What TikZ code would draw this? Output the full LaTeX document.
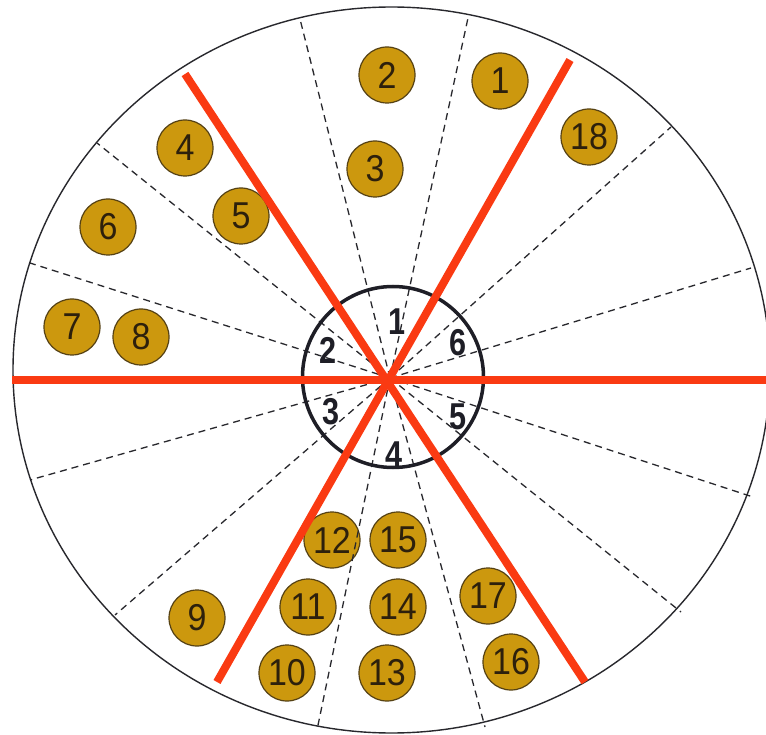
\documentclass[tikz,border=0pt]{standalone}
\usepackage{fontspec}
\setmainfont{Liberation Sans}
\definecolor{ballfill}{RGB}{204,152,14}
\definecolor{ballline}{RGB}{85,65,20}
\definecolor{balltext}{RGB}{45,32,12}
\definecolor{redline}{RGB}{250,58,18}
\definecolor{dashcol}{RGB}{40,40,45}
\definecolor{inkcol}{RGB}{30,30,38}
\newcommand{\ballnum}[1]{\scalebox{1}[1.1]{#1}}
\newcommand{\ringnum}[1]{\scalebox{0.9}[1.1]{#1}}
\begin{document}
\begin{tikzpicture}[x=1pt,y=-1pt,
  ball/.style={circle,draw=ballline,line width=1.2pt,fill=ballfill,minimum size=56pt,inner sep=0pt,
    font=\fontsize{34}{38}\selectfont,text=balltext},
  sector/.style={draw=dashcol,line width=1.3pt,dash pattern=on 7pt off 5pt},
  axis/.style={draw=redline,line width=8pt},
  ringlabel/.style={inner sep=0pt,text=inkcol,font=\bfseries\fontsize{34}{38}\selectfont},
  outer/.style={draw=dashcol,line width=1.4pt},
  inner/.style={draw=inkcol,line width=3.5pt}]
\useasboundingbox (0,0) rectangle (766,735);
\clip (0,0) rectangle (766,735);
\fill[white] (0,0) rectangle (766,735);
% outer circle
\draw[outer] (391.5,370) ellipse [x radius=378.5, y radius=363];
% centre
\coordinate (C) at (390,378);
% balls
\node[ball] (b1) at (500,81) {\ballnum{1}};
\node[ball] (b2) at (387,75) {\ballnum{2}};
\node[ball] (b3) at (375,169) {\ballnum{3}};
\node[ball] (b4) at (185,148) {\ballnum{4}};
\node[ball] (b5) at (241,216) {\ballnum{5}};
\node[ball] (b6) at (108,227) {\ballnum{6}};
\node[ball] (b7) at (72,327) {\ballnum{7}};
\node[ball] (b8) at (141,337) {\ballnum{8}};
\node[ball] (b9) at (197,618) {\ballnum{9}};
\node[ball] (b10) at (287,673) {\ballnum{10}};
\node[ball] (b11) at (308,607) {\ballnum{11}};
\node[ball] (b12) at (332,540) {\ballnum{12}};
\node[ball] (b13) at (387,673) {\ballnum{13}};
\node[ball] (b14) at (398,607) {\ballnum{14}};
\node[ball] (b15) at (398,540) {\ballnum{15}};
\node[ball] (b16) at (511,662) {\ballnum{16}};
\node[ball] (b17) at (488,596) {\ballnum{17}};
\node[ball] (b18) at (589,137) {\ballnum{18}};
% sector boundaries
\coordinate (d1) at (468,18);
\coordinate (d2) at (300,19);
\coordinate (d3) at (97,143);
\coordinate (d4) at (30,263);
\coordinate (d5) at (671,127);
\coordinate (d6) at (751,268);
\coordinate (d7) at (30,480);
\coordinate (d8) at (115,615);
\coordinate (d9) at (317,730);
\coordinate (d10) at (485,727);
\coordinate (d11) at (681,612);
\coordinate (d12) at (753,497);
\foreach \d in {d1,d2,d3,d4,d5,d6,d7,d8,d9,d10,d11,d12}
  \draw[sector] (C) -- (\d);
% inner circle
\node[circle,inner,minimum size=181pt,inner sep=0pt] (ring) at (393,377) {};
% red axes
\coordinate (r1a) at (185,74);
\coordinate (r1b) at (585,682);
\coordinate (r2a) at (570,60);
\coordinate (r2b) at (217,682);
\coordinate (r3a) at (12,380);
\coordinate (r3b) at (772,380);
\draw[axis] (r1a) -- (r1b);
\draw[axis] (r2a) -- (r2b);
\draw[axis] (r3a) -- (r3b);
% ring labels
\node[ringlabel] (l1) at (397,322) {\ringnum{1}};
\node[ringlabel] (l2) at (328,350) {\ringnum{2}};
\node[ringlabel] (l3) at (331,412) {\ringnum{3}};
\node[ringlabel] (l4) at (394,455) {\ringnum{4}};
\node[ringlabel] (l5) at (458,417) {\ringnum{5}};
\node[ringlabel] (l6) at (458,343) {\ringnum{6}};
\end{tikzpicture}
\end{document}
